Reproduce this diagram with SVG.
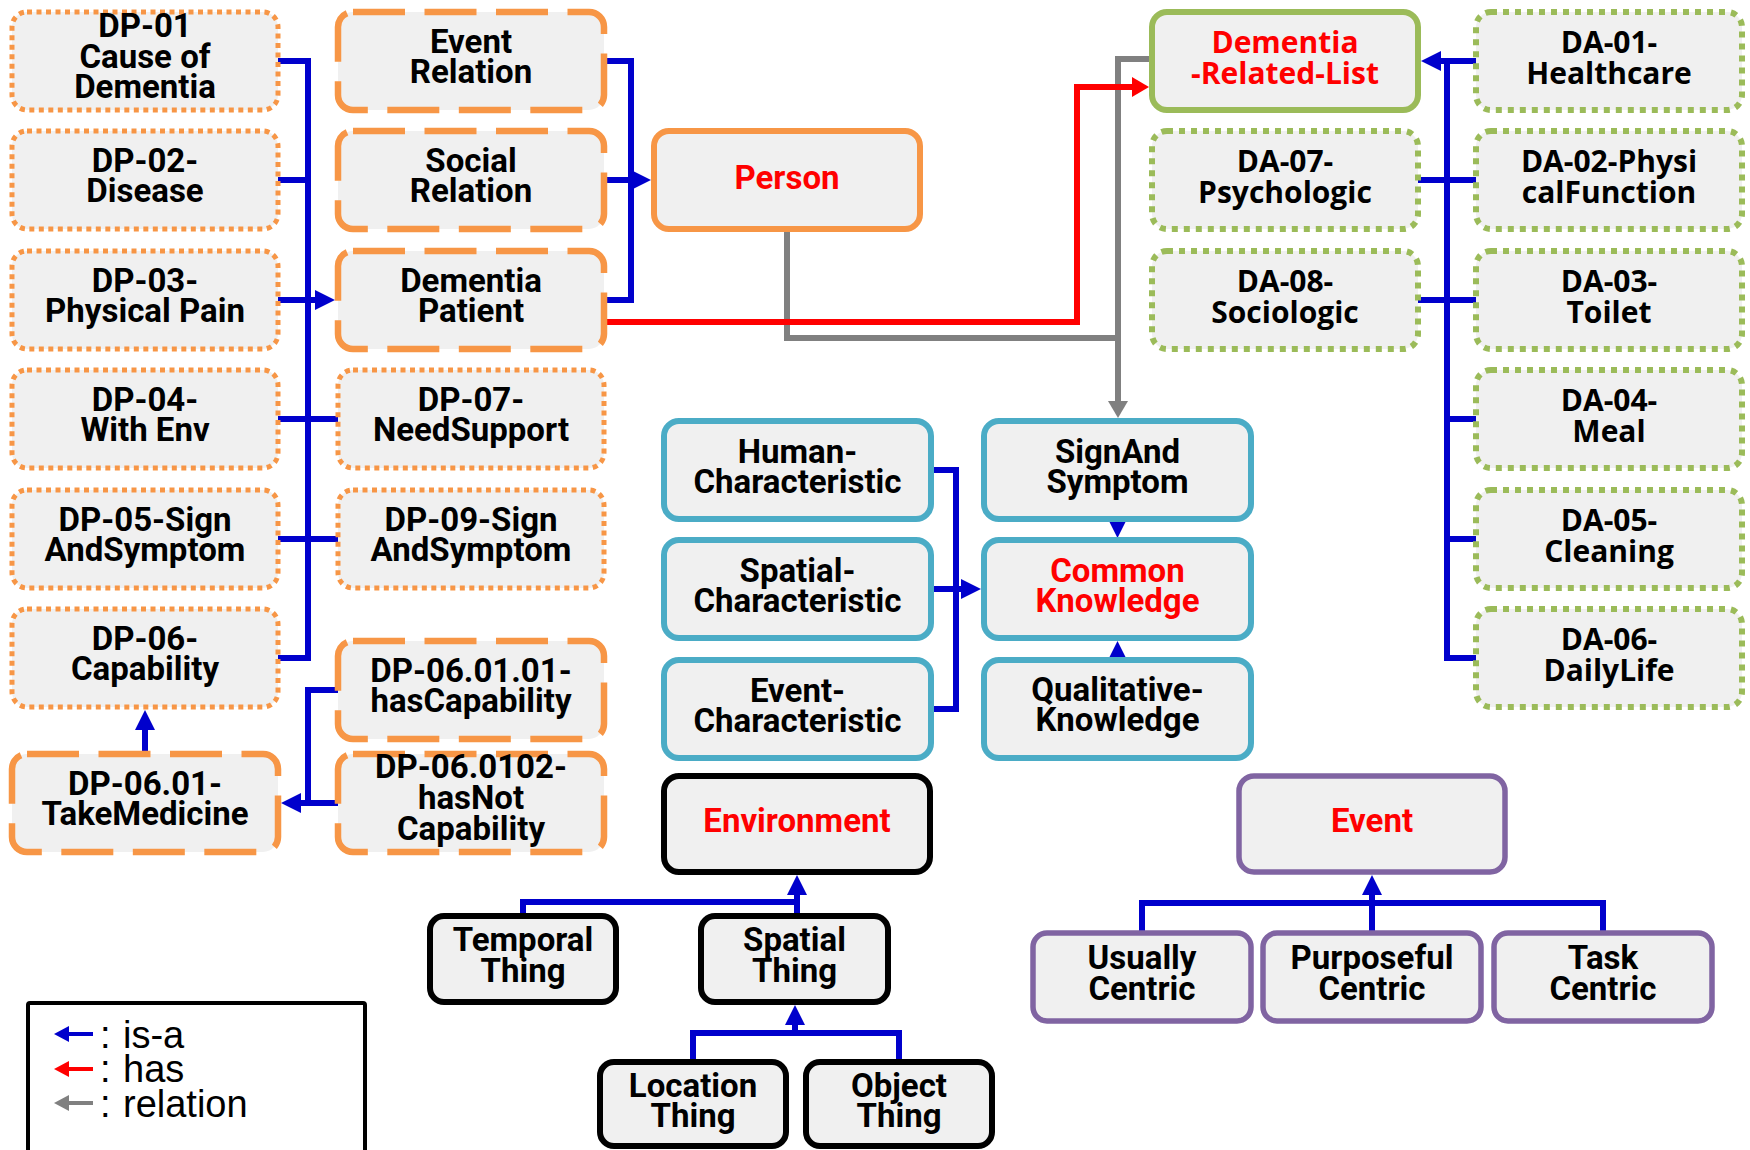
<svg xmlns="http://www.w3.org/2000/svg" width="1750" height="1150" viewBox="0 0 1750 1150">
<defs>
<style>
.box{fill:#F0F0F0}
.od{stroke:#F79646;stroke-width:5;stroke-dasharray:5 4.5}
.oL{stroke:#F79646;stroke-width:6.5;stroke-dasharray:52 19.5}
.oS{stroke:#F79646;stroke-width:6}
.gd{stroke:#9BBB59;stroke-width:6;stroke-dasharray:6 6}
.gS{stroke:#9BBB59;stroke-width:6}
.cS{stroke:#4BACC6;stroke-width:6}
.kS{stroke:#000000;stroke-width:6}
.pS{stroke:#8064A2;stroke-width:5.5}
text{font-family:Roboto,"Liberation Sans",sans-serif;font-weight:700;font-size:33px;text-anchor:middle;fill:#000000}
text.w{font-family:"Open Sans","DejaVu Sans",sans-serif;font-size:30px}
text.red{fill:#FF0000}
text.lg{font-family:"Liberation Sans",Arial,sans-serif;font-weight:400;font-size:38px;text-anchor:start}
.b{fill:none;stroke:#0000CC;stroke-width:6}
.rd{fill:none;stroke:#FF0000;stroke-width:6}
.gy{fill:none;stroke:#808080;stroke-width:6}
.ab{marker-end:url(#mb)}
</style>
<marker id="mb" markerUnits="userSpaceOnUse" viewBox="0 0 20 20" markerWidth="20" markerHeight="20" refX="0" refY="10" orient="auto"><path d="M0,0 L20,10 L0,20 z" fill="#0000CC"/></marker>
<marker id="mr" markerUnits="userSpaceOnUse" viewBox="0 0 17 20" markerWidth="17" markerHeight="20" refX="0" refY="10" orient="auto"><path d="M0,0 L17,10 L0,20 z" fill="#FF0000"/></marker>
<marker id="mg" markerUnits="userSpaceOnUse" viewBox="0 0 17 20" markerWidth="17" markerHeight="20" refX="0" refY="10" orient="auto"><path d="M0,0 L17,10 L0,20 z" fill="#808080"/></marker>
<marker id="lb" markerUnits="userSpaceOnUse" viewBox="0 0 15 16" markerWidth="15" markerHeight="16" refX="0" refY="8" orient="auto"><path d="M0,0 L15,8 L0,16 z" fill="#0000CC"/></marker>
<marker id="lr" markerUnits="userSpaceOnUse" viewBox="0 0 15 16" markerWidth="15" markerHeight="16" refX="0" refY="8" orient="auto"><path d="M0,0 L15,8 L0,16 z" fill="#FF0000"/></marker>
<marker id="lg" markerUnits="userSpaceOnUse" viewBox="0 0 15 16" markerWidth="15" markerHeight="16" refX="0" refY="8" orient="auto"><path d="M0,0 L15,8 L0,16 z" fill="#808080"/></marker>
</defs>
<rect width="1750" height="1150" fill="#FFFFFF"/>

<g id="connectors">
<path class="b" d="M278,61 H308 V658 H278"/>
<path class="b" d="M278,180 H308"/>
<path class="b" d="M278,419 H338"/>
<path class="b" d="M278,539 H338"/>
<path class="b ab" d="M278,300 H315"/>
<path class="b" d="M604,61 H631 V300 H604"/>
<path class="b ab" d="M604,180 H631"/>
<path class="b" d="M338,690 H308 V803"/>
<path class="b ab" d="M338,803 H301"/>
<path class="b ab" d="M145,754 V730"/>
<path class="b" d="M931,470 H956 V709 H931"/>
<path class="b ab" d="M931,589 H961"/>
<path class="b ab" d="M1117.5,516 V518"/>
<path class="b ab" d="M1117.5,663 V661"/>
<path class="b" d="M1476,61 H1447 V658 H1476"/>
<path class="b ab" d="M1447,61 H1441"/>
<path class="b" d="M1418,180 H1476"/>
<path class="b" d="M1418,300 H1476"/>
<path class="b" d="M1447,419 H1476"/>
<path class="b" d="M1447,539 H1476"/>
<path class="b" d="M523,916 V902 H797"/>
<path class="b ab" d="M797,916 V895"/>
<path class="b" d="M693,1062 V1033 H899 V1062"/>
<path class="b ab" d="M795,1033 V1025"/>
<path class="b" d="M1142,933 V903 H1603 V933"/>
<path class="b ab" d="M1372,933 V895"/>
<path class="gy" d="M1152,59 H1118 V338"/>
<path class="gy" d="M787,229 V338 H1118 V401" marker-end="url(#mg)"/>
<path class="rd" d="M604,322 H1077 V87 H1132" marker-end="url(#mr)"/>
</g>

<g id="dp01"><rect class="box od" x="12" y="12" width="266" height="98" rx="15"/><text x="145" y="37">DP-01<tspan x="145" y="68">Cause of</tspan><tspan x="145" y="98">Dementia</tspan></text></g>
<g id="dp02"><rect class="box od" x="12" y="131" width="266" height="98" rx="15"/><text x="145" y="172">DP-02-<tspan x="145" y="202">Disease</tspan></text></g>
<g id="dp03"><rect class="box od" x="12" y="251" width="266" height="98" rx="15"/><text x="145" y="292">DP-03-<tspan x="145" y="322">Physical Pain</tspan></text></g>
<g id="dp04"><rect class="box od" x="12" y="370" width="266" height="98" rx="15"/><text x="145" y="411">DP-04-<tspan x="145" y="441">With Env</tspan></text></g>
<g id="dp05"><rect class="box od" x="12" y="490" width="266" height="98" rx="15"/><text x="145" y="531">DP-05-Sign<tspan x="145" y="561">AndSymptom</tspan></text></g>
<g id="dp06"><rect class="box od" x="12" y="609" width="266" height="98" rx="15"/><text x="145" y="650">DP-06-<tspan x="145" y="680">Capability</tspan></text></g>
<g id="dp0601"><rect class="box oL" x="12" y="754" width="266" height="98" rx="15"/><text x="145" y="795">DP-06.01-<tspan x="145" y="825">TakeMedicine</tspan></text></g>

<g id="eventRelation"><rect class="box oL" x="338" y="12" width="266" height="98" rx="15"/><text x="471" y="53">Event<tspan x="471" y="83">Relation</tspan></text></g>
<g id="socialRelation"><rect class="box oL" x="338" y="131" width="266" height="98" rx="15"/><text x="471" y="172">Social<tspan x="471" y="202">Relation</tspan></text></g>
<g id="dementiaPatient"><rect class="box oL" x="338" y="251" width="266" height="98" rx="15"/><text x="471" y="292">Dementia<tspan x="471" y="322">Patient</tspan></text></g>
<g id="dp07"><rect class="box od" x="338" y="370" width="266" height="98" rx="15"/><text x="471" y="411">DP-07-<tspan x="471" y="441">NeedSupport</tspan></text></g>
<g id="dp09"><rect class="box od" x="338" y="490" width="266" height="98" rx="15"/><text x="471" y="531">DP-09-Sign<tspan x="471" y="561">AndSymptom</tspan></text></g>
<g id="dp060101"><rect class="box oL" x="338" y="641" width="266" height="98" rx="15"/><text x="471" y="682">DP-06.01.01-<tspan x="471" y="712">hasCapability</tspan></text></g>
<g id="dp060102"><rect class="box oL" x="338" y="754" width="266" height="98" rx="15"/><text x="471" y="778">DP-06.0102-<tspan x="471" y="809">hasNot</tspan><tspan x="471" y="840">Capability</tspan></text></g>

<g id="person"><rect class="box oS" x="654" y="131" width="266" height="98" rx="15"/><text class="red" x="787" y="189">Person</text></g>

<g id="dementiaRelatedList"><rect class="box gS" x="1152" y="12" width="266" height="98" rx="15"/><text class="w red" x="1285" y="53">Dementia<tspan x="1285" y="84">-Related-List</tspan></text></g>
<g id="da07"><rect class="box gd" x="1152" y="131" width="266" height="98" rx="15"/><text class="w" x="1285" y="172">DA-07-<tspan x="1285" y="203">Psychologic</tspan></text></g>
<g id="da08"><rect class="box gd" x="1152" y="251" width="266" height="98" rx="15"/><text class="w" x="1285" y="292">DA-08-<tspan x="1285" y="323">Sociologic</tspan></text></g>
<g id="da01"><rect class="box gd" x="1476" y="12" width="266" height="98" rx="15"/><text class="w" x="1609" y="53">DA-01-<tspan x="1609" y="84">Healthcare</tspan></text></g>
<g id="da02"><rect class="box gd" x="1476" y="131" width="266" height="98" rx="15"/><text class="w" x="1609" y="172">DA-02-Physi<tspan x="1609" y="203">calFunction</tspan></text></g>
<g id="da03"><rect class="box gd" x="1476" y="251" width="266" height="98" rx="15"/><text class="w" x="1609" y="292">DA-03-<tspan x="1609" y="323">Toilet</tspan></text></g>
<g id="da04"><rect class="box gd" x="1476" y="370" width="266" height="98" rx="15"/><text class="w" x="1609" y="411">DA-04-<tspan x="1609" y="442">Meal</tspan></text></g>
<g id="da05"><rect class="box gd" x="1476" y="490" width="266" height="98" rx="15"/><text class="w" x="1609" y="531">DA-05-<tspan x="1609" y="562">Cleaning</tspan></text></g>
<g id="da06"><rect class="box gd" x="1476" y="609" width="266" height="98" rx="15"/><text class="w" x="1609" y="650">DA-06-<tspan x="1609" y="681">DailyLife</tspan></text></g>

<g id="humanChar"><rect class="box cS" x="664" y="421" width="267" height="98" rx="15"/><text x="797.5" y="463">Human-<tspan x="797.5" y="493">Characteristic</tspan></text></g>
<g id="spatialChar"><rect class="box cS" x="664" y="540" width="267" height="98" rx="15"/><text x="797.5" y="582">Spatial-<tspan x="797.5" y="612">Characteristic</tspan></text></g>
<g id="eventChar"><rect class="box cS" x="664" y="660" width="267" height="98" rx="15"/><text x="797.5" y="702">Event-<tspan x="797.5" y="732">Characteristic</tspan></text></g>
<g id="signAndSymptom"><rect class="box cS" x="984" y="421" width="267" height="98" rx="15"/><text x="1117.5" y="463">SignAnd<tspan x="1117.5" y="493">Symptom</tspan></text></g>
<g id="commonKnowledge"><rect class="box cS" x="984" y="540" width="267" height="98" rx="15"/><text class="red" x="1117.5" y="582">Common<tspan x="1117.5" y="612">Knowledge</tspan></text></g>
<g id="qualitativeKnowledge"><rect class="box cS" x="984" y="660" width="267" height="98" rx="15"/><text x="1117.5" y="701">Qualitative-<tspan x="1117.5" y="731">Knowledge</tspan></text></g>

<g id="environment"><rect class="box kS" x="664" y="776" width="266" height="96" rx="15"/><text class="red" x="797" y="832">Environment</text></g>
<g id="temporalThing"><rect class="box kS" x="430" y="916" width="186" height="86" rx="14"/><text x="523" y="951">Temporal<tspan x="523" y="982">Thing</tspan></text></g>
<g id="spatialThing"><rect class="box kS" x="701" y="916" width="187" height="86" rx="14"/><text x="794.5" y="951">Spatial<tspan x="794.5" y="982">Thing</tspan></text></g>
<g id="locationThing"><rect class="box kS" x="600" y="1062" width="186" height="84" rx="14"/><text x="693" y="1097">Location<tspan x="693" y="1127">Thing</tspan></text></g>
<g id="objectThing"><rect class="box kS" x="806" y="1062" width="186" height="84" rx="14"/><text x="899" y="1097">Object<tspan x="899" y="1127">Thing</tspan></text></g>

<g id="event"><rect class="box pS" x="1239" y="776" width="266" height="96" rx="15"/><text class="red" x="1372" y="832">Event</text></g>
<g id="usuallyCentric"><rect class="box pS" x="1033" y="933" width="218" height="88" rx="14"/><text x="1142" y="969">Usually<tspan x="1142" y="1000">Centric</tspan></text></g>
<g id="purposefulCentric"><rect class="box pS" x="1263" y="933" width="218" height="88" rx="14"/><text x="1372" y="969">Purposeful<tspan x="1372" y="1000">Centric</tspan></text></g>
<g id="taskCentric"><rect class="box pS" x="1494" y="933" width="218" height="88" rx="14"/><text x="1603" y="969">Task<tspan x="1603" y="1000">Centric</tspan></text></g>

<g id="legend">
<rect x="28" y="1003" width="337" height="160" rx="2" fill="#FFFFFF" stroke="#000000" stroke-width="4"/>
<path d="M93,1034 H69" fill="none" stroke="#0000CC" stroke-width="4" marker-end="url(#lb)"/>
<path d="M93,1069 H69" fill="none" stroke="#FF0000" stroke-width="4" marker-end="url(#lr)"/>
<path d="M93,1103 H69" fill="none" stroke="#808080" stroke-width="4" marker-end="url(#lg)"/>
<text class="lg" x="100" y="1048">:<tspan x="123">is-a</tspan></text>
<text class="lg" x="100" y="1082">:<tspan x="123">has</tspan></text>
<text class="lg" x="100" y="1117">:<tspan x="123">relation</tspan></text>
</g>
</svg>
